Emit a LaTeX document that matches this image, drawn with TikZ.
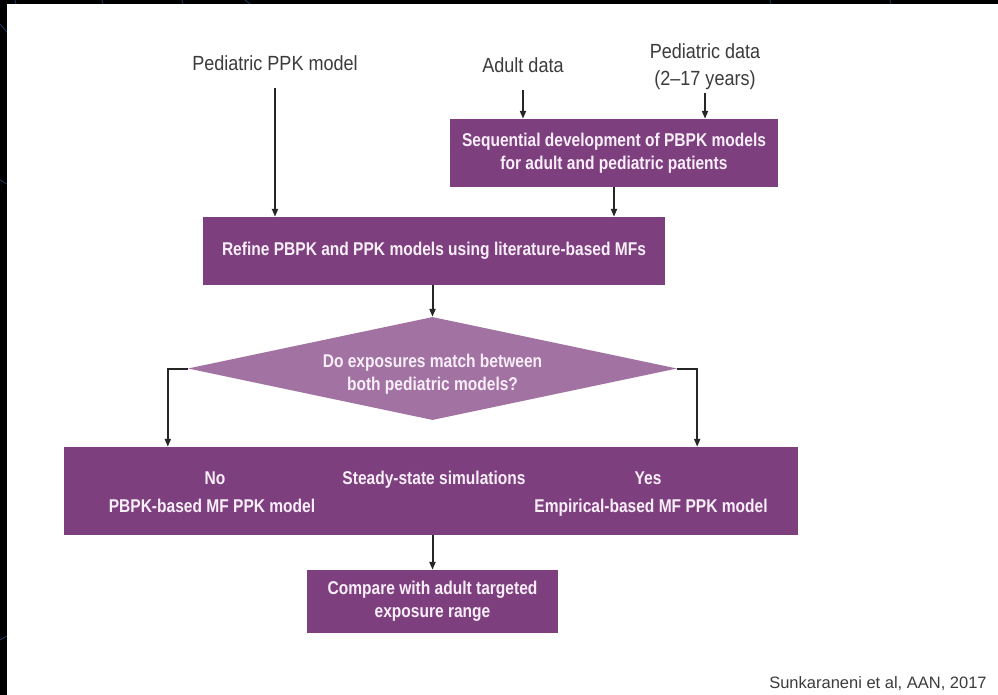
\documentclass[tikz,border=0pt]{standalone}
\usepackage{fontspec}
\setmainfont{Liberation Sans}
\newfontfamily\condfont[FakeStretch=0.88]{Liberation Sans}
\newfontfamily\boxfont[FakeStretch=0.84]{Liberation Sans}
\usetikzlibrary{arrows.meta,shapes.geometric}
\definecolor{boxpurple}{HTML}{7E3F7F}
\definecolor{diapurple}{HTML}{A272A2}
\definecolor{boxtext}{HTML}{F8EEF8}
\definecolor{lblgray}{HTML}{3C3C3C}
\definecolor{arrowgray}{HTML}{262626}
\definecolor{edgeblue}{HTML}{1E3A6A}
\tikzset{
  box/.style={fill=boxpurple, inner sep=0pt, text=boxtext, align=center,
    font=\boxfont\bfseries\fontsize{18.5pt}{23pt}\selectfont},
  btxt/.style={inner sep=0pt, text=boxtext, align=center, anchor=base,
    font=\boxfont\bfseries\fontsize{18.5pt}{23pt}\selectfont},
  lbl/.style={inner sep=0pt, text=lblgray, align=center,
    font=\condfont\fontsize{20.5pt}{27pt}\selectfont},
  arr/.style={line width=2pt, draw=arrowgray, -{Triangle[length=8pt,width=6pt]}},
  edgeline/.style={draw=edgeblue, line width=0.8pt}
}
\begin{document}
\begin{tikzpicture}[x=1pt,y=-1pt]
\useasboundingbox (0,0) rectangle (998,695);
% background
\fill[black] (0,0) rectangle (998,695);
\draw[edgeline] (0,24) -- (7,32);
\draw[edgeline] (0,180) -- (7,184);
\draw[edgeline] (0,640) -- (7,636);
\draw[edgeline] (15,0) -- (16,4);
\draw[edgeline] (102,0) -- (103,4);
\draw[edgeline] (182,0) -- (183,4);
\draw[edgeline] (245,0) -- (250,4);
\draw[edgeline] (770,0) -- (771,4);
\draw[edgeline] (890,0) -- (891,4);
\fill[white] (7,4) rectangle (998,695);

% top labels
\node[lbl] (ppk) at (275,63) {Pediatric PPK model};
\node[lbl] (adult) at (523,65) {Adult data};
\node[lbl] (ped) at (705,67) {Pediatric data\\(2–17 years)};
\coordinate (ppkS) at (275,88);
\coordinate (adultS) at (523,90);
\coordinate (pedS) at (705,93);

% boxes
\node[box, minimum width=328pt, minimum height=68pt] (seq) at (614,153)
  {Sequential development of PBPK models\\for adult and pediatric patients};
\node[box, minimum width=462pt, minimum height=68pt] (ref) at (434,251)
  {Refine PBPK and PPK models using literature-based MFs};
\node[diamond, fill=diapurple, inner sep=0pt, aspect=4.75,
  minimum width=489pt, minimum height=103pt] (dia) at (432.5,368.5) {};
\node[box, fill=none] (diatext) at (432.5,374)
  {Do exposures match between\\both pediatric models?};
\node[box, minimum width=734pt, minimum height=88pt] (ss) at (431,491) {};
\node[btxt] (no) at (215,484) {No};
\node[btxt] (nomodel) at (212,512) {PBPK-based MF PPK model};
\node[btxt] (sst) at (434,484) {Steady-state simulations};
\node[btxt] (yes) at (648,484) {Yes};
\node[btxt] (yesmodel) at (651,512) {Empirical-based MF PPK model};
\node[box, minimum width=251pt, minimum height=63pt] (cmp) at (432.5,601.5)
  {Compare with adult targeted\\exposure range};

% citation
\node[inner sep=0pt, text=lblgray, font=\fontsize{16.5pt}{20pt}\selectfont]
  (cite) at (878,684) {Sunkaraneni et al, AAN, 2017};

% connectors
\draw[arr] (ppkS) -- (ppkS |- ref.north);
\draw[arr] (adultS) -- (adultS |- seq.north);
\draw[arr] (pedS) -- (pedS |- seq.north);
\draw[arr] (seq.south) -- (seq.south |- ref.north);
\draw[arr] (dia.north |- ref.south) -- (dia.north);
\draw[arr] (dia.west) -| ([xshift=104pt]ss.north west);
\draw[arr] (dia.east) -| ([xshift=-101pt]ss.north east);
\draw[arr] (cmp.north |- ss.south) -- (cmp.north);
\end{tikzpicture}
\end{document}
